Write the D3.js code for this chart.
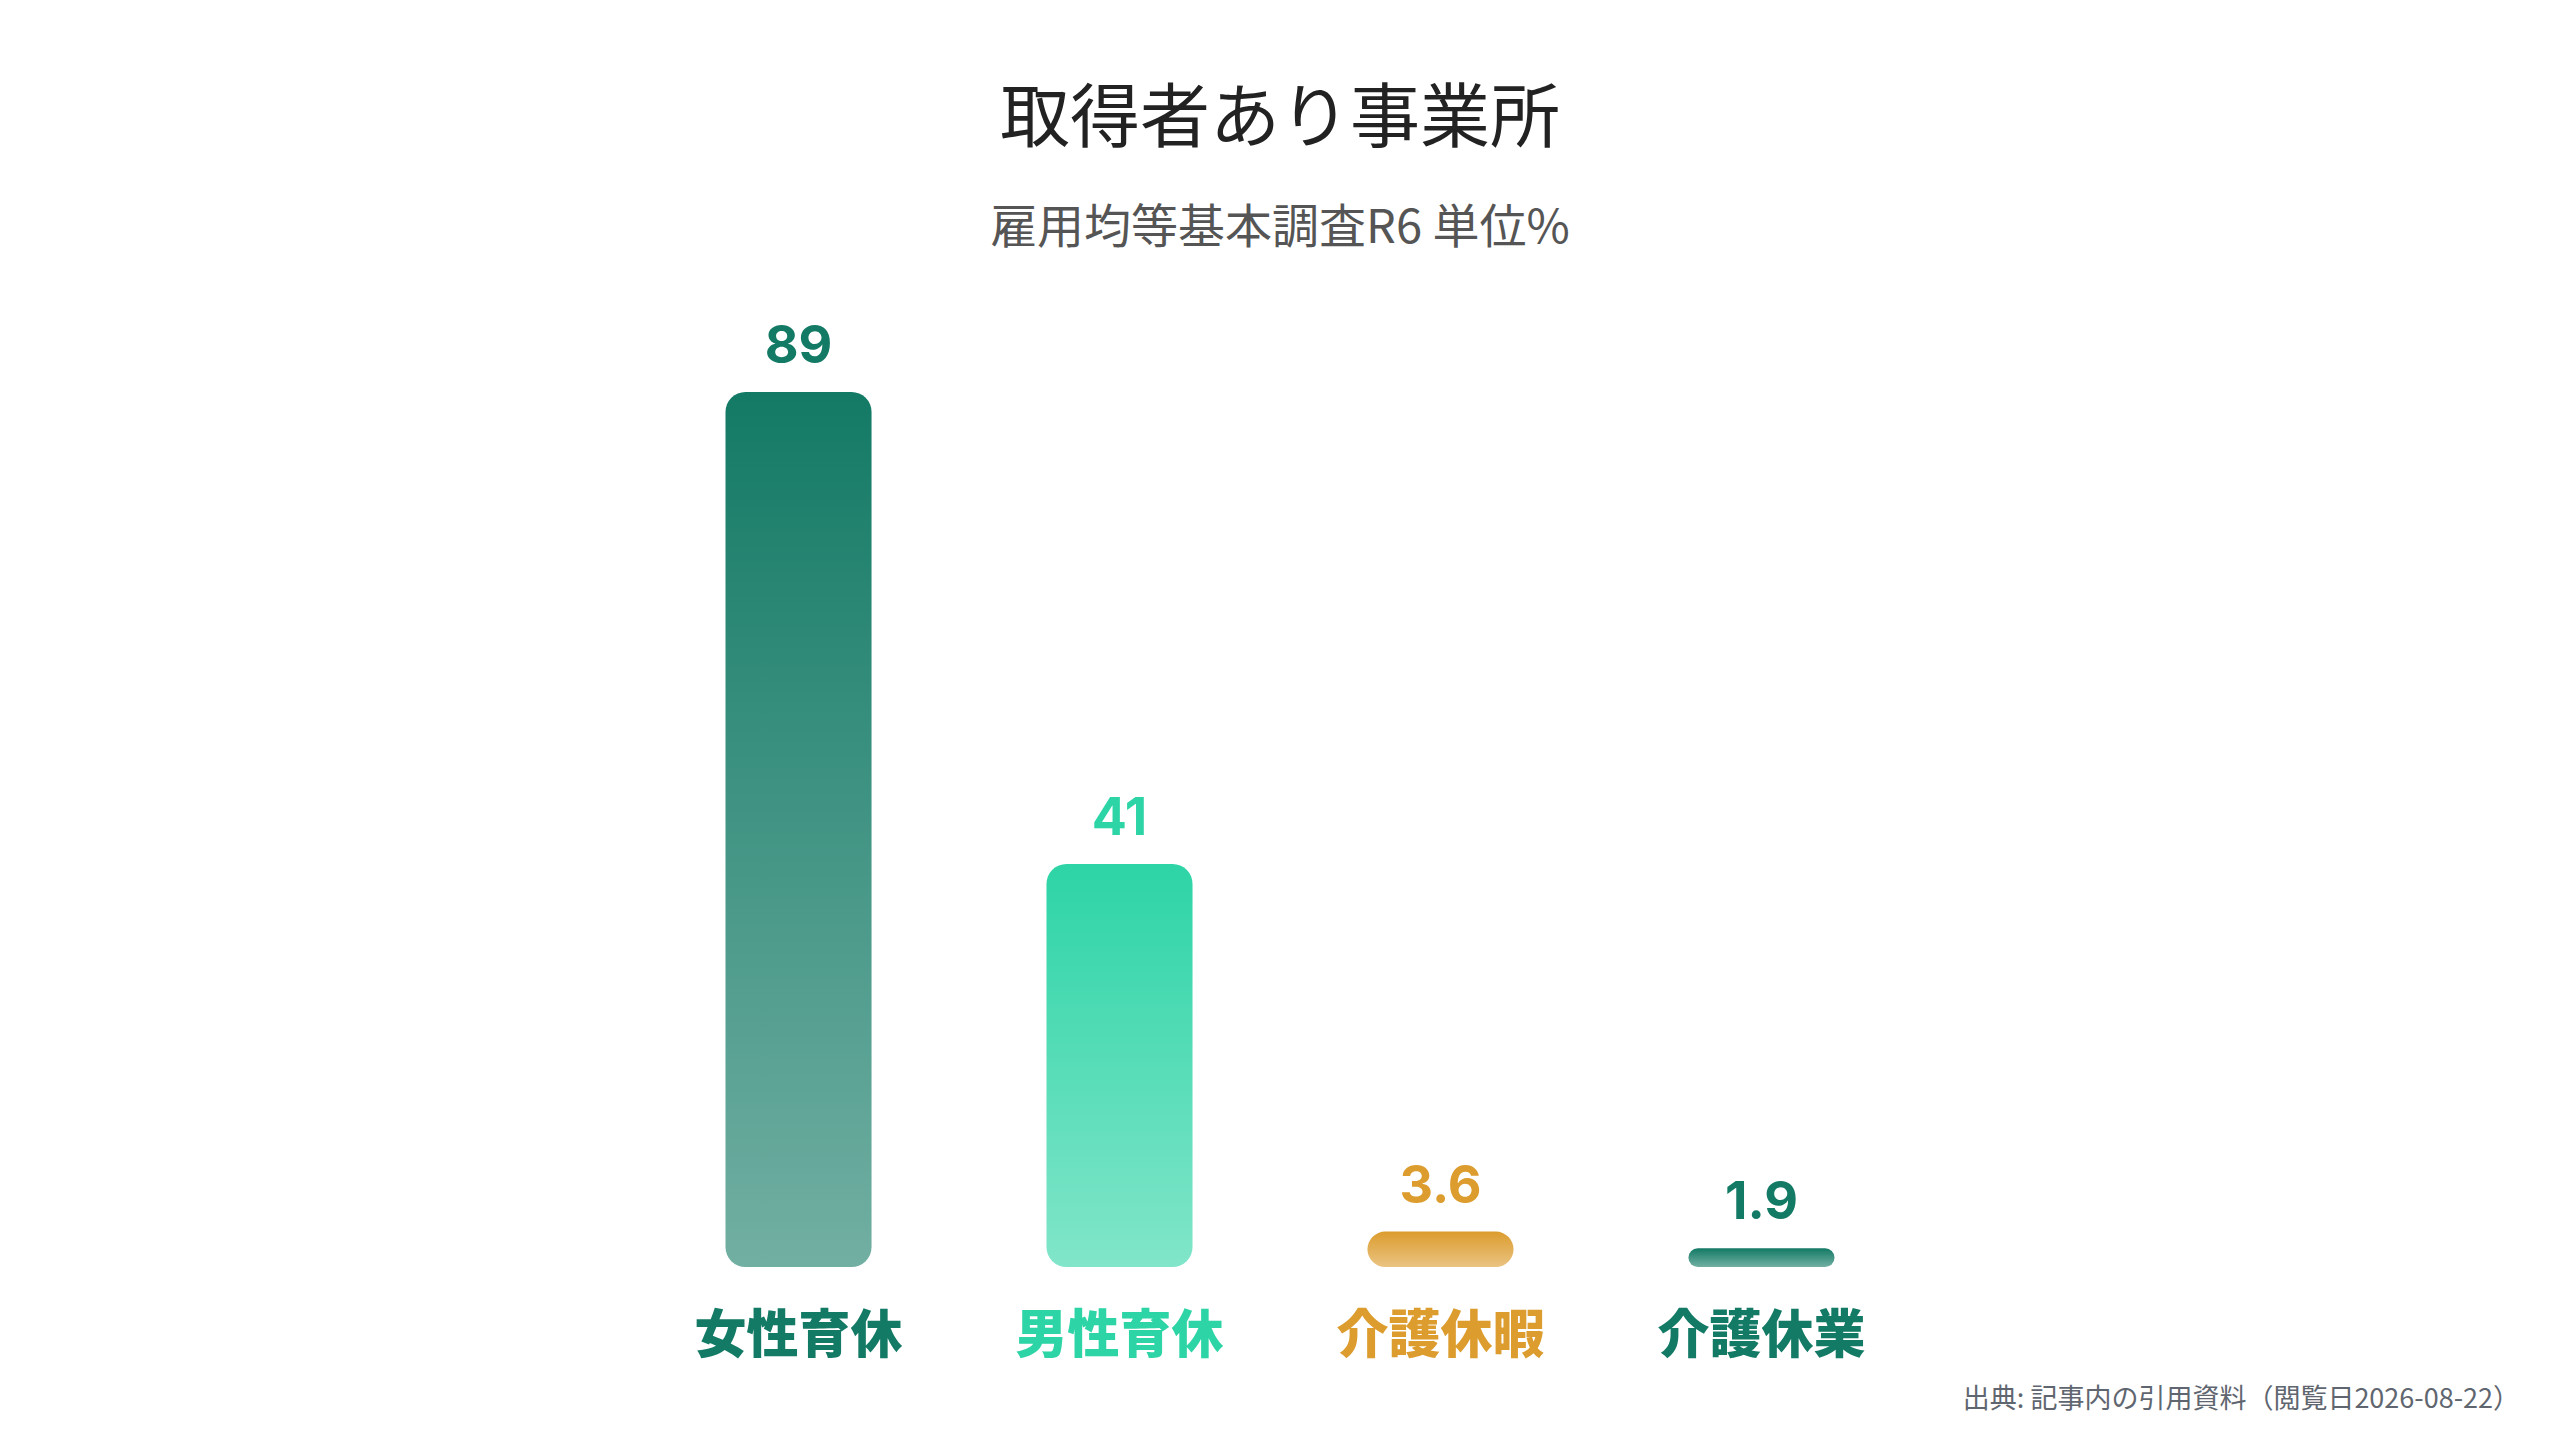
<!DOCTYPE html>
<html lang="ja">
<head>
<meta charset="utf-8">
<script src="https://cdn.jsdelivr.net/npm/d3@7"></script>
<style>
  html, body { margin: 0; padding: 0; background: #fff; }
  svg { display: block; }
</style>
</head>
<body>
<svg id="chart"></svg>
<script>
// chart data
const categories = ["女性育休", "男性育休", "介護休暇", "介護休業"];
const values = [89, 41, 3.6, 1.9];
const valueLabels = ["89", "41", "3.6", "1.9"];
const barColors = ["#137a65", "#2dd4a6", "#dc9c2e", "#137a65"];

const titleText = "取得者あり事業所";
const subtitleText = "雇用均等基本調査R6 単位%";
const sourceText = "出典: 記事内の引用資料（閲覧日2026-08-22）";

const width = 2560;
const height = 1440;

const svg = d3.select("#chart")
    .attr("width", width)
    .attr("height", height)
    .attr("viewBox", `0 0 ${width} ${height}`);

const cjk = "'Noto Sans CJK JP', 'Noto Sans', sans-serif";
const num = "Inter, 'Noto Sans', sans-serif";

// scales
const x = d3.scaleBand()
    .domain(categories)
    .range([565, 1995])
    .paddingInner(0.545)
    .paddingOuter(0.5);

const y = d3.scaleLinear()
    .domain([0, d3.max(values)])
    .range([1267, 392]);

// gradients, one per bar (colour fades toward the base)
const defs = svg.append("defs");
categories.forEach((c, i) => {
    const g = defs.append("linearGradient")
        .attr("id", "grad" + i)
        .attr("x1", 0).attr("y1", 0)
        .attr("x2", 0).attr("y2", 1);
    g.append("stop").attr("offset", "0%")
        .attr("stop-color", barColors[i]).attr("stop-opacity", 1);
    g.append("stop").attr("offset", "100%")
        .attr("stop-color", barColors[i]).attr("stop-opacity", 0.6);
});

// title + subtitle
svg.append("text")
    .attr("x", width / 2)
    .attr("y", 111)
    .attr("text-anchor", "middle")
    .attr("dominant-baseline", "central")
    .attr("font-family", cjk)
    .attr("font-size", 70)
    .attr("fill", "#222")
    .text(titleText);

svg.append("text")
    .attr("x", width / 2)
    .attr("y", 222)
    .attr("text-anchor", "middle")
    .attr("dominant-baseline", "central")
    .attr("font-family", cjk)
    .attr("font-size", 47)
    .attr("fill", "#555")
    .text(subtitleText);

const data = categories.map((c, i) => ({ cat: c, value: values[i], label: valueLabels[i], color: barColors[i], i: i }));

// bars
svg.append("g")
    .selectAll("rect")
    .data(data)
    .join("rect")
    .attr("x", d => x(d.cat))
    .attr("y", d => y(d.value))
    .attr("width", x.bandwidth())
    .attr("height", d => y(0) - y(d.value))
    .attr("rx", d => Math.min(20, (y(0) - y(d.value)) / 2))
    .attr("fill", d => `url(#grad${d.i})`);

// value labels
svg.append("g")
    .selectAll("text")
    .data(data)
    .join("text")
    .attr("x", d => x(d.cat) + x.bandwidth() / 2)
    .attr("y", d => y(d.value) - 29)
    .attr("text-anchor", "middle")
    .attr("font-family", num)
    .attr("font-weight", 700)
    .attr("font-size", 52)
    .attr("fill", d => d.color)
    .text(d => d.label);

// category labels
svg.append("g")
    .selectAll("text")
    .data(data)
    .join("text")
    .attr("x", d => x(d.cat) + x.bandwidth() / 2)
    .attr("y", 1330)
    .attr("text-anchor", "middle")
    .attr("dominant-baseline", "central")
    .attr("font-family", cjk)
    .attr("font-weight", 900)
    .attr("font-size", 52)
    .attr("fill", d => d.color)
    .text(d => d.cat);

// source note
svg.append("text")
    .attr("x", 2520)
    .attr("y", 1396)
    .attr("text-anchor", "end")
    .attr("dominant-baseline", "central")
    .attr("font-family", cjk)
    .attr("font-size", 27)
    .attr("fill", "#5f6670")
    .text(sourceText);
</script>
</body>
</html>
